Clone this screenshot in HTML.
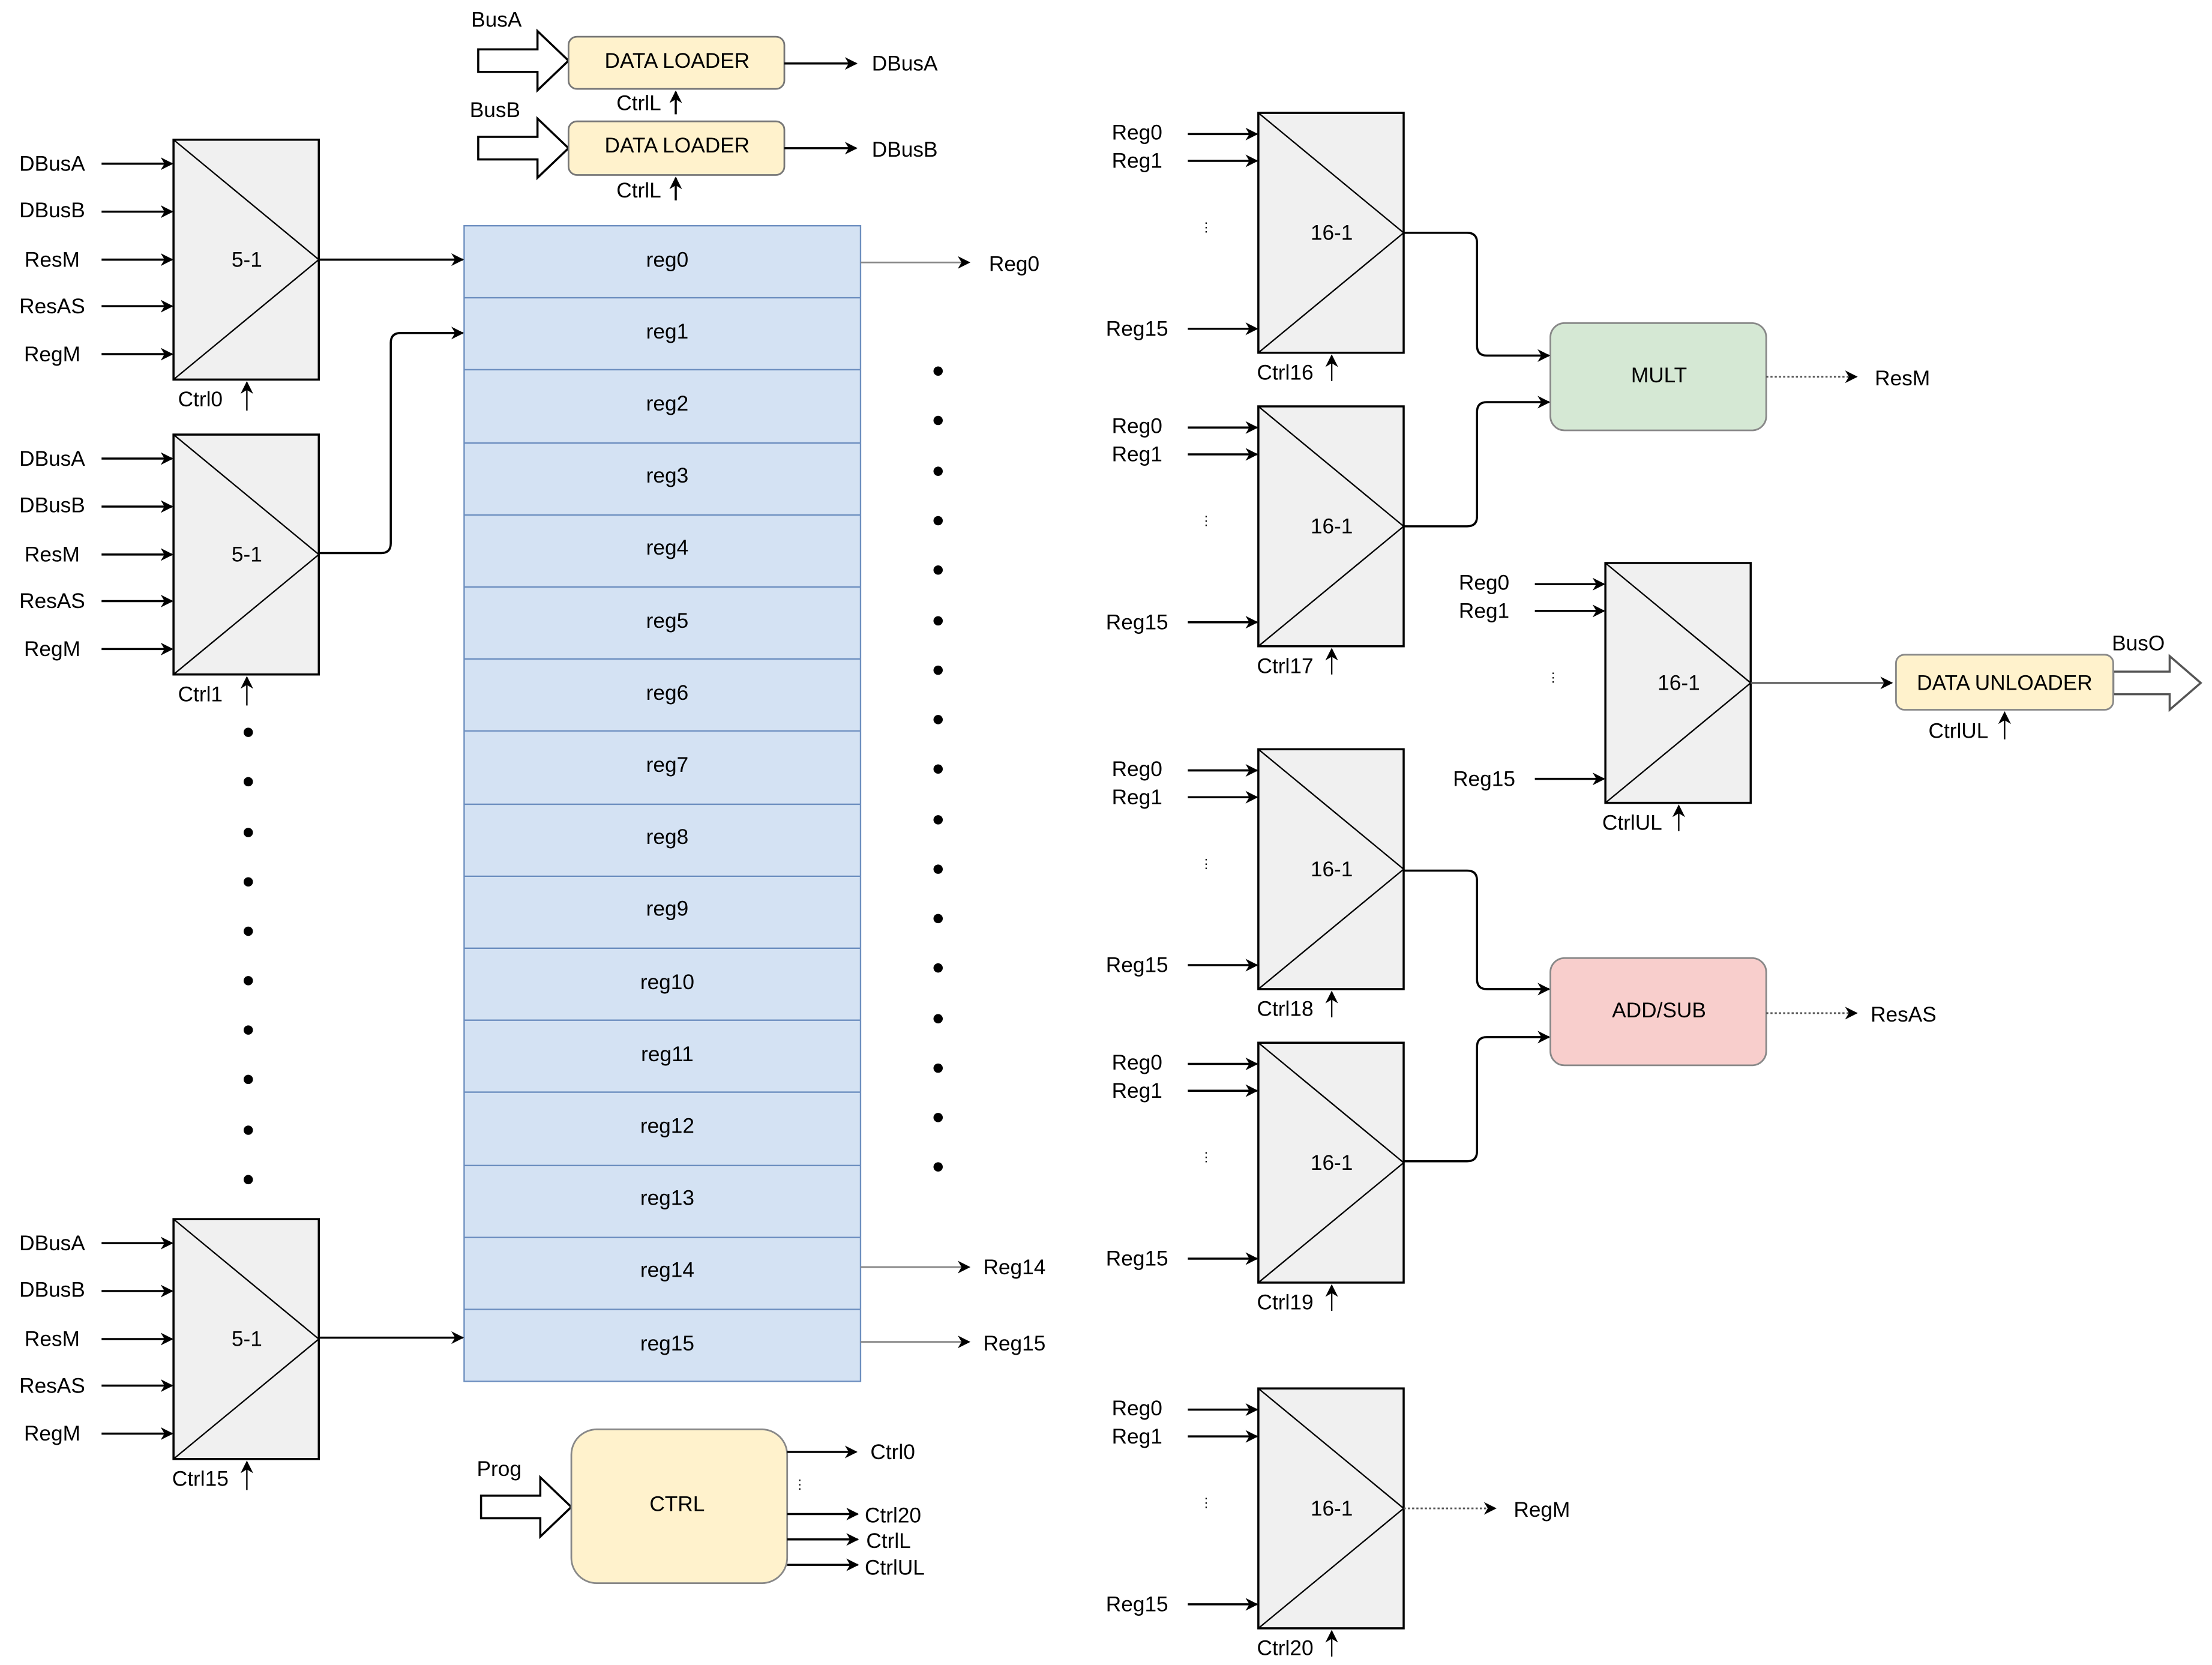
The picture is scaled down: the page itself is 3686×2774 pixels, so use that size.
<!DOCTYPE html>
<html><head><meta charset="utf-8"><style>html,body{margin:0;padding:0;background:#fff;}svg{display:block}</style></head>
<body>
<svg width="3686" height="2774" viewBox="0 0 1568 1180" preserveAspectRatio="none" xmlns="http://www.w3.org/2000/svg" font-family="Liberation Sans, sans-serif" font-size="15" fill="#000">
<defs>
<marker id="a" viewBox="0 0 10 10" refX="9" refY="5" markerWidth="9" markerHeight="9" markerUnits="userSpaceOnUse" orient="auto"><path d="M0,0 L10,5 L0,10 L3,5 z" fill="#000"/></marker>
<g id="lm">
<rect x="123" y="0" width="103" height="170" fill="#f0f0f0" stroke="#000" stroke-width="1.5"/>
<polyline points="123,0 226,85 123,170" fill="none" stroke="#000" stroke-width="1"/>
<text x="175" y="90" text-anchor="middle">5-1</text>
<g stroke="#000" stroke-width="1.5" marker-end="url(#a)">
<line x1="72" y1="17" x2="122" y2="17"/><line x1="72" y1="51" x2="122" y2="51"/><line x1="72" y1="85" x2="122" y2="85"/><line x1="72" y1="118" x2="122" y2="118"/><line x1="72" y1="152" x2="122" y2="152"/></g>
<g text-anchor="middle"><text x="37" y="22">DBusA</text><text x="37" y="55">DBusB</text><text x="37" y="90">ResM</text><text x="37" y="123">ResAS</text><text x="37" y="157">RegM</text></g>
<line x1="175" y1="192" x2="175" y2="172" stroke="#000" marker-end="url(#a)"/>
</g>
<g id="rm">
<rect x="0" y="0" width="103" height="170" fill="#f0f0f0" stroke="#000" stroke-width="1.5"/>
<polyline points="0,0 103,85 0,170" fill="none" stroke="#000" stroke-width="1"/>
<text x="52" y="90" text-anchor="middle">16-1</text>
<g stroke="#000" stroke-width="1.5" marker-end="url(#a)">
<line x1="-50" y1="15" x2="-1" y2="15"/><line x1="-50" y1="34" x2="-1" y2="34"/><line x1="-50" y1="153" x2="-1" y2="153"/></g>
<g text-anchor="middle"><text x="-86" y="19">Reg0</text><text x="-86" y="39">Reg1</text><text x="-86" y="158">Reg15</text></g>
<text x="-37" y="84" font-size="9" text-anchor="middle">⋮</text>
<line x1="52" y1="190" x2="52" y2="172" stroke="#000" marker-end="url(#a)"/>
</g>
<g id="ba"><path d="M0,-8 H42 V-21 L64,0 L42,21 V8 H0 Z" fill="#fff" stroke="#000" stroke-width="1.5"/></g>
</defs>

<use href="#lm" y="99"/><text x="142" y="288" text-anchor="middle">Ctrl0</text>
<use href="#lm" y="308"/><text x="142" y="497" text-anchor="middle">Ctrl1</text>
<use href="#lm" y="864"/><text x="142" y="1053" text-anchor="middle">Ctrl15</text>
<g fill="#000">
<circle cx="176" cy="519" r="3.3"/><circle cx="176" cy="554" r="3.3"/><circle cx="176" cy="590" r="3.3"/><circle cx="176" cy="625" r="3.3"/><circle cx="176" cy="660" r="3.3"/><circle cx="176" cy="695" r="3.3"/><circle cx="176" cy="730" r="3.3"/><circle cx="176" cy="765" r="3.3"/><circle cx="176" cy="801" r="3.3"/><circle cx="176" cy="836" r="3.3"/>
</g>

<g stroke="#6c8ebf" stroke-width="1" fill="#d4e2f3">
<rect x="329" y="160" width="281" height="819"/>
</g>
<g stroke="#6c8ebf" stroke-width="1">
<line x1="329" y1="211" x2="610" y2="211"/><line x1="329" y1="262" x2="610" y2="262"/><line x1="329" y1="314" x2="610" y2="314"/><line x1="329" y1="365" x2="610" y2="365"/><line x1="329" y1="416" x2="610" y2="416"/><line x1="329" y1="467" x2="610" y2="467"/><line x1="329" y1="518" x2="610" y2="518"/><line x1="329" y1="570" x2="610" y2="570"/><line x1="329" y1="621" x2="610" y2="621"/><line x1="329" y1="672" x2="610" y2="672"/><line x1="329" y1="723" x2="610" y2="723"/><line x1="329" y1="774" x2="610" y2="774"/><line x1="329" y1="826" x2="610" y2="826"/><line x1="329" y1="877" x2="610" y2="877"/><line x1="329" y1="928" x2="610" y2="928"/>
</g>
<g text-anchor="middle">
<text x="473" y="189">reg0</text><text x="473" y="240">reg1</text><text x="473" y="291">reg2</text><text x="473" y="342">reg3</text><text x="473" y="393">reg4</text><text x="473" y="445">reg5</text><text x="473" y="496">reg6</text><text x="473" y="547">reg7</text><text x="473" y="598">reg8</text><text x="473" y="649">reg9</text><text x="473" y="701">reg10</text><text x="473" y="752">reg11</text><text x="473" y="803">reg12</text><text x="473" y="854">reg13</text><text x="473" y="905">reg14</text><text x="473" y="957">reg15</text>
</g>
<g stroke="#000" stroke-width="1.5" fill="none" marker-end="url(#a)">
<line x1="226" y1="184" x2="328" y2="184"/>
<path d="M226,392 H270 Q277,392 277,385 V243 Q277,236 284,236 H328"/>
<line x1="226" y1="948" x2="328" y2="948"/>
</g>
<g stroke="#888" stroke-width="1.2" fill="none" marker-end="url(#a)">
<line x1="610" y1="186" x2="687" y2="186"/><line x1="610" y1="898" x2="687" y2="898"/><line x1="610" y1="951" x2="687" y2="951"/>
</g>
<text x="701" y="192">Reg0</text><text x="697" y="903">Reg14</text><text x="697" y="957">Reg15</text>
<g fill="#000">
<circle cx="665" cy="263" r="3.3"/><circle cx="665" cy="298" r="3.3"/><circle cx="665" cy="334" r="3.3"/><circle cx="665" cy="369" r="3.3"/><circle cx="665" cy="404" r="3.3"/><circle cx="665" cy="440" r="3.3"/><circle cx="665" cy="475" r="3.3"/><circle cx="665" cy="510" r="3.3"/><circle cx="665" cy="545" r="3.3"/><circle cx="665" cy="581" r="3.3"/><circle cx="665" cy="616" r="3.3"/><circle cx="665" cy="651" r="3.3"/><circle cx="665" cy="686" r="3.3"/><circle cx="665" cy="722" r="3.3"/><circle cx="665" cy="757" r="3.3"/><circle cx="665" cy="792" r="3.3"/><circle cx="665" cy="827" r="3.3"/>
</g>

<use href="#ba" x="339" y="43"/><use href="#ba" x="339" y="105"/>
<rect x="403" y="26" width="153" height="37" rx="6" fill="#fff2cc" stroke="#777" stroke-width="1.2"/>
<rect x="403" y="86" width="153" height="38" rx="6" fill="#fff2cc" stroke="#777" stroke-width="1.2"/>
<g text-anchor="middle"><text x="480" y="48">DATA LOADER</text><text x="480" y="108">DATA LOADER</text></g>
<text x="334" y="19">BusA</text><text x="333" y="83">BusB</text>
<g stroke="#000" stroke-width="1.5" marker-end="url(#a)"><line x1="556" y1="45" x2="607" y2="45"/><line x1="556" y1="105" x2="607" y2="105"/>
<line x1="479" y1="81" x2="479" y2="65"/><line x1="479" y1="142" x2="479" y2="126"/></g>
<text x="618" y="50">DBusA</text><text x="618" y="111">DBusB</text>
<text x="437" y="78">CtrlL</text><text x="437" y="140">CtrlL</text>

<use href="#ba" x="341" y="1068"/>
<rect x="405" y="1013" width="153" height="109" rx="18" fill="#fff2cc" stroke="#888" stroke-width="1.2"/>
<text x="480" y="1071" text-anchor="middle">CTRL</text>
<text x="338" y="1046">Prog</text>
<g stroke="#000" stroke-width="1.5" marker-end="url(#a)">
<line x1="558" y1="1029" x2="607" y2="1029"/><line x1="558" y1="1073" x2="608" y2="1073"/><line x1="558" y1="1091" x2="608" y2="1091"/><line x1="558" y1="1109" x2="608" y2="1109"/></g>
<text x="567" y="1055" font-size="9" text-anchor="middle">⋮</text>
<text x="617" y="1034">Ctrl0</text><text x="613" y="1079">Ctrl20</text><text x="614" y="1097">CtrlL</text><text x="613" y="1116">CtrlUL</text>

<use href="#rm" x="892" y="80"/><text x="911" y="269" text-anchor="middle">Ctrl16</text>
<use href="#rm" x="892" y="288"/><text x="911" y="477" text-anchor="middle">Ctrl17</text>
<use href="#rm" x="892" y="531"/><text x="911" y="720" text-anchor="middle">Ctrl18</text>
<use href="#rm" x="892" y="739"/><text x="911" y="928" text-anchor="middle">Ctrl19</text>
<use href="#rm" x="892" y="984"/><text x="911" y="1173" text-anchor="middle">Ctrl20</text>
<use href="#rm" x="1138" y="399"/><text x="1157" y="588" text-anchor="middle">CtrlUL</text>

<rect x="1099" y="229" width="153" height="76" rx="10" fill="#d5e8d4" stroke="#888" stroke-width="1.2"/>
<text x="1176" y="271" text-anchor="middle">MULT</text>
<rect x="1099" y="679" width="153" height="76" rx="10" fill="#f8cecc" stroke="#888" stroke-width="1.2"/>
<text x="1176" y="721" text-anchor="middle">ADD/SUB</text>
<g stroke="#000" stroke-width="1.5" fill="none" marker-end="url(#a)">
<path d="M995,165 H1040 Q1047,165 1047,172 V245 Q1047,252 1054,252 H1098"/>
<path d="M995,373 H1040 Q1047,373 1047,366 V292 Q1047,285 1054,285 H1098"/>
<path d="M995,617 H1040 Q1047,617 1047,624 V694 Q1047,701 1054,701 H1098"/>
<path d="M995,823 H1040 Q1047,823 1047,816 V742 Q1047,735 1054,735 H1098"/>
</g>
<g stroke="#555" stroke-width="1.2" stroke-dasharray="1.5,1.5" marker-end="url(#a)">
<line x1="1252" y1="267" x2="1316" y2="267"/><line x1="1252" y1="718" x2="1316" y2="718"/><line x1="995" y1="1069" x2="1060" y2="1069"/></g>
<text x="1329" y="273">ResM</text><text x="1326" y="724">ResAS</text><text x="1073" y="1075">RegM</text>

<line x1="1241" y1="484" x2="1341" y2="484" stroke="#555" stroke-width="1.2" marker-end="url(#a)"/>
<path d="M1498,476 H1538 V465 L1560,484 L1538,503 V492 H1498 Z" fill="#fff" stroke="#555" stroke-width="1.5"/>
<rect x="1344" y="464" width="154" height="39" rx="6" fill="#fff2cc" stroke="#888" stroke-width="1.2"/>
<text x="1421" y="489" text-anchor="middle">DATA UNLOADER</text>
<text x="1497" y="461">BusO</text>
<text x="1367" y="523">CtrlUL</text>
<line x1="1421" y1="524" x2="1421" y2="505" stroke="#000" marker-end="url(#a)"/>
</svg>
</body></html>
